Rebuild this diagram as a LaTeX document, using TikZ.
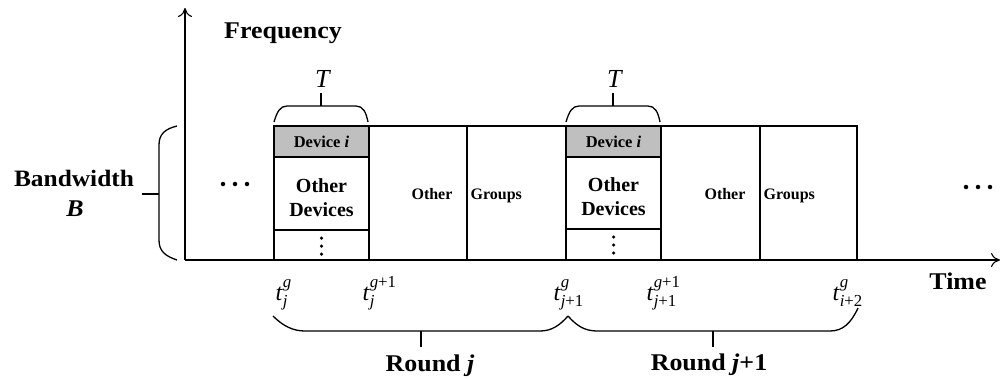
\documentclass[tikz,border=0pt]{standalone}
\usepackage{fontspec}
\usepackage{amsmath}
\setmainfont{Liberation Serif}
\newfontfamily\bigf[FakeStretch=1.08]{Liberation Serif}
\usetikzlibrary{arrows.meta}
\newcommand{\tlab}[2]{\textit{t}$^{#1}_{#2}$}
\begin{document}
\begin{tikzpicture}[x=1pt,y=-1pt,line width=1.3pt,
  cell/.style={draw,line width=1.3pt},
  graycell/.style={draw,fill=black!25,line width=1.3pt},
  bx/.style={inner sep=0pt,font=\bfseries},
  big/.style={inner sep=0pt,anchor=base,font=\bigf\bfseries\fontsize{24}{28}\selectfont},
  dotc/.style={circle,fill=black,inner sep=0pt,minimum size=4.5pt},
  vdot/.style={circle,fill=black,inner sep=0pt,minimum size=3.5pt},
  brace/.style={line width=1.3pt},
  tl/.style={inner sep=0pt,anchor=base west,font=\fontsize{24}{28}\selectfont},
  axis/.style={line width=1.1pt,-{To[length=9pt,width=14pt,line width=1.1pt]}}]
\useasboundingbox (0,0) rectangle (1000,378);
% axes
\coordinate (O) at (185,260);
\coordinate (ytop) at (185,8);
\coordinate (xend) at (1000,260);
\draw[axis] (O) -- (ytop);
\draw[axis] (O) -- (xend);
% round j cells
\draw[graycell] (274,126) rectangle (369,157);
\draw[cell] (274,157) rectangle (369,230);
\draw[cell] (274,230) rectangle (369,260);
\draw[cell] (369,126) rectangle (467,260);
\draw[cell] (467,126) rectangle (566,260);
% round j+1 cells
\draw[graycell] (566,126) rectangle (661,157);
\draw[cell] (566,157) rectangle (661,229);
\draw[cell] (566,229) rectangle (661,260);
\draw[cell] (661,126) rectangle (760,260);
\draw[cell] (760,126) rectangle (857,260);
% cell texts
\node[bx,anchor=base,font=\bfseries\fontsize{16.5}{19}\selectfont] (d1) at (321.5,147.5) {Device \textit{i}};
\node[bx,font=\bfseries\fontsize{20}{24}\selectfont,align=center] (od1) at (321.5,198) {Other\\Devices};
\node[bx,anchor=base,font=\bfseries\fontsize{16}{19}\selectfont] (o1) at (432,199) {Other};
\node[bx,anchor=base west,font=\bfseries\fontsize{16}{19}\selectfont] (g1) at (470,199) {Groups};
\node[bx,anchor=base,font=\bfseries\fontsize{16.5}{19}\selectfont] (d2) at (613.5,147.5) {Device \textit{i}};
\node[bx,font=\bfseries\fontsize{20}{24}\selectfont,align=center] (od2) at (613.5,197) {Other\\Devices};
\node[bx,anchor=base,font=\bfseries\fontsize{16}{19}\selectfont] (o2) at (725,199) {Other};
\node[bx,anchor=base west,font=\bfseries\fontsize{16}{19}\selectfont] (g2) at (763,199) {Groups};
% vertical dots
\foreach \y [count=\k] in {238,246,254} {
  \node[vdot] (va\k) at (321.5,\y) {};
  \node[vdot] (vb\k) at (613.5,\y-1) {};
}
% horizontal dots
\foreach \x [count=\k] in {223,235,247} \node[dotc] (la\k) at (\x,184) {};
\foreach \x [count=\k] in {966,978,990} \node[dotc] (ra\k) at (\x,187) {};
% labels
\node[big] (freq) at (283,38) {Frequency};
\node[big,font=\bigf\bfseries\fontsize{23.5}{28}\selectfont] (bw) at (74,186) {Bandwidth};
\node[big] (bwB) at (75,216) {\textit{B}};
\node[big] (time) at (958,289) {Time};
\node[inner sep=0pt,anchor=base,font=\fontsize{26}{30}\selectfont] (T1) at (323,87) {\textit{T}};
\node[inner sep=0pt,anchor=base,font=\fontsize{26}{30}\selectfont] (T2) at (615,87) {\textit{T}};
\node[big] (r1) at (430,371) {Round \textit{j}};
\node[big] (r2) at (709,370) {Round \textit{j}+1};
% time labels
\node[tl] (t1) at (275,300) {\tlab{\text{\itshape g}}{\text{\itshape j}}};
\node[tl] (t2) at (362,300) {\tlab{\text{\itshape g}\text{+1}}{\text{\itshape j}}};
\node[tl] (t3) at (553,300) {\tlab{\text{\itshape g}}{\text{\itshape j}\text{+1}}};
\node[tl] (t4) at (646,300) {\tlab{\text{\itshape g}\text{+1}}{\text{\itshape j}\text{+1}}};
\node[tl] (t5) at (832,300) {\tlab{\text{\itshape g}}{\text{\itshape i}\text{+2}}};
% bandwidth brace
\draw[brace] (177,126) .. controls (165,129) and (159,134) .. (159,145) -- (159,240) .. controls (159,251) and (165,256) .. (177,260);
\draw[brace] (142,194) -- (159,194);
% T braces
\draw[brace] (274,122) .. controls (277,112) and (280,106) .. (287,106) -- (356,106) .. controls (363,106) and (366,112) .. (368,122);
\draw[brace] (321,106) -- (321,93);
\draw[brace] (566,122) .. controls (569,112) and (572,106) .. (579,106) -- (648,106) .. controls (655,106) and (658,112) .. (660,122);
\draw[brace] (613,106) -- (613,93);
% round braces
\draw[brace] (273,316) .. controls (283,326) and (293,331) .. (305,331) -- (540,331) .. controls (552,331) and (560,325) .. (568,316);
\draw[brace] (421,331) -- (421,347);
\draw[brace] (568,316) .. controls (576,325) and (584,331) .. (597,331) -- (830,331) .. controls (843,331) and (851,323) .. (858,308);
\draw[brace] (713,331) -- (713,347);
\end{tikzpicture}
\end{document}
